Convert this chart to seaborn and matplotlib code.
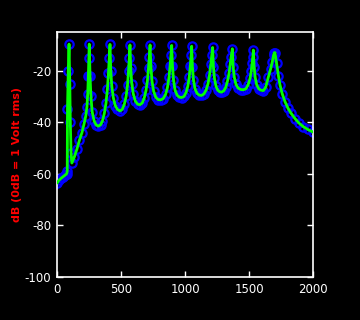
import matplotlib
matplotlib.use("Agg")
import matplotlib.pyplot as plt
import seaborn as sns
import pandas as pd

freq = [0, 15, 30, 45, 60, 75, 80, 82, 88, 94, 100, 104, 110, 116,
        135, 155, 175, 195, 212, 225, 234, 240, 245, 249, 252,
        258, 265, 275, 290, 305, 323, 340, 355, 370, 383, 394, 402, 408, 414,
        420, 428, 440, 455, 472, 492, 510, 526, 540, 551, 559, 565, 570,
        576, 584, 596, 612, 630, 648, 666, 682, 696, 707, 715, 721, 727,
        733, 742, 755, 772, 790, 810, 830, 848, 863, 875, 884, 890, 896,
        902, 910, 922, 938, 956, 974, 992, 1008, 1022, 1033, 1042, 1048, 1052,
        1058, 1066, 1078, 1094, 1112, 1130, 1148, 1165, 1180, 1192, 1202, 1209, 1216,
        1222, 1230, 1242, 1256, 1272, 1287, 1303, 1318, 1332, 1344, 1353, 1361, 1370,
        1376, 1385, 1398, 1414, 1435, 1456, 1476, 1493, 1508, 1518, 1525, 1530, 1534,
        1540, 1548, 1560, 1576, 1594, 1612, 1630, 1651, 1668, 1682, 1692, 1698, 1703,
        1715, 1730, 1742, 1760, 1781, 1805, 1830, 1860, 1890, 1924, 1960, 2000]

level = [-63.6, -62.5, -61.8, -61.2, -60.6, -60.0, -59.0, -35.0, -20.0, -9.7, -25.0, -40.0, -52.0, -55.8,
         -53.5, -50.5, -47.0, -44.0, -40.5, -37.5, -34.0, -29.0, -22.0, -15.0, -9.7,
         -22.0, -30.0, -36.0, -39.5, -41.0, -41.5, -41.0, -39.5, -36.5, -32.5, -27.0, -21.0, -15.0, -9.8,
         -20.0, -26.0, -30.5, -33.5, -35.0, -35.6, -35.0, -33.0, -30.0, -25.5, -20.0, -15.0, -10.0,
         -19.0, -25.0, -29.0, -31.8, -33.0, -33.2, -32.5, -30.5, -27.5, -23.5, -19.0, -14.5, -10.0,
         -18.0, -24.0, -28.0, -30.3, -31.2, -31.3, -30.8, -29.2, -26.5, -22.5, -18.0, -14.0, -10.2,
         -18.0, -23.5, -27.5, -29.5, -30.3, -30.4, -30.0, -28.5, -26.0, -22.5, -18.0, -14.0, -10.5,
         -18.5, -23.5, -27.0, -28.8, -29.5, -29.6, -29.0, -27.5, -25.0, -21.5, -17.5, -14.0, -11.0,
         -18.5, -23.0, -26.0, -27.6, -28.2, -28.3, -27.8, -26.5, -24.0, -21.0, -17.5, -14.5, -11.5,
         -18.5, -22.5, -25.3, -26.7, -27.3, -27.4, -27.0, -25.5, -23.0, -20.0, -17.0, -14.5, -12.0,
         -18.5, -22.5, -25.5, -27.0, -27.6, -27.7, -26.5, -22.5, -19.5, -16.5, -14.0, -13.0, -13.0,
         -17.0, -22.0, -25.5, -29.0, -32.0, -34.6, -36.6, -38.6, -40.3, -41.7, -42.8, -43.8]

xticks = [0, 500, 1000, 1500, 2000]
yticks = [-100, -80, -60, -40, -20]
ylabel = "dB (0dB = 1 Volt rms)"

df = pd.DataFrame({"freq": freq, "level": level})

sns.set_style("dark")
plt.rcParams["font.family"] = ["DejaVu Sans"]

fig = plt.figure(figsize=(3.6, 3.2), dpi=100, facecolor="black")
ax = fig.add_axes([57/360, 1-277/320, (313-57)/360, (277-32)/320])
ax.set_facecolor("black")

ax.plot(df["freq"], df["level"], linestyle="none", marker="o", markersize=6,
        markerfacecolor="none", markeredgecolor="#0000ff", markeredgewidth=1.6, zorder=2)
sns.lineplot(data=df, x="freq", y="level", color="#00ff00", linewidth=2.0,
             sort=False, estimator=None, ax=ax, zorder=3)

ax.set_xlim(0, 2000)
ax.set_ylim(-100, -5)
ax.set_xticks(xticks)
ax.set_yticks(yticks)
ax.set_xticklabels([str(t) for t in xticks])
ax.set_yticklabels([str(t) for t in yticks])
ax.grid(False)
for s in ax.spines.values():
    s.set_visible(True)
    s.set_color("white")
    s.set_linewidth(1.2)
ax.tick_params(direction="in", length=4, width=1, colors="white", labelsize=8.5,
               top=True, right=True, bottom=True, left=True, pad=4)
ax.set_xlabel("")
ax.set_ylabel(ylabel, color="red", fontsize=8, fontweight="bold")
ax.yaxis.set_label_coords(-35/256, 0.5)

fig.savefig("out.png", dpi=100, facecolor="black")
